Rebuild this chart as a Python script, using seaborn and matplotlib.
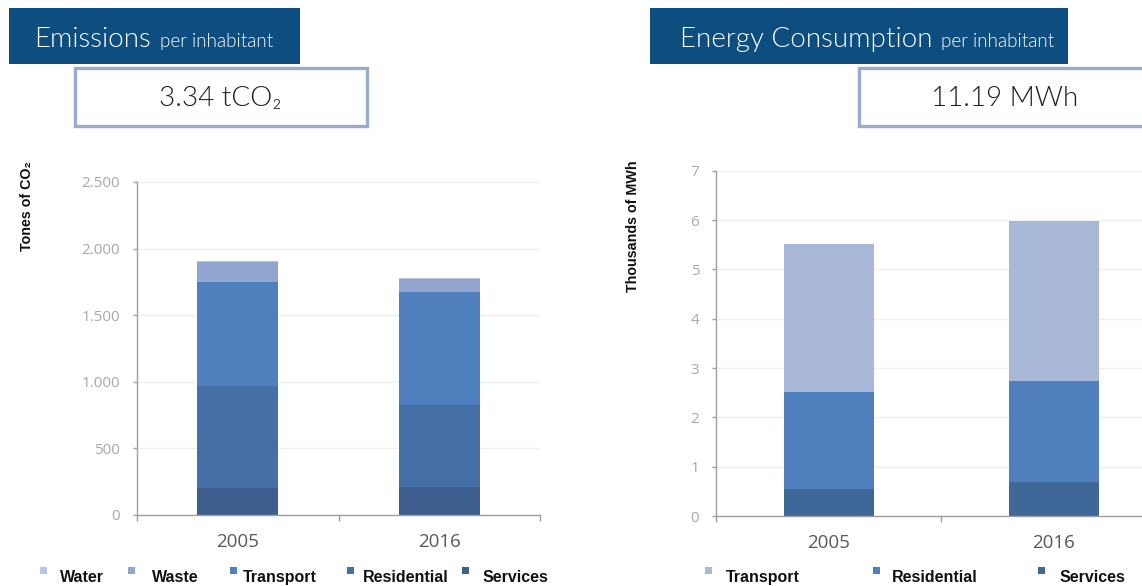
import matplotlib
matplotlib.use("Agg")
import matplotlib.pyplot as plt
from matplotlib.patches import Rectangle
from matplotlib.ticker import FuncFormatter, FixedLocator
import seaborn as sns
import pandas as pd
import numpy as np

# ---- data -------------------------------------------------------------
years = ["2005", "2016"]

# Emissions (tonnes of CO2), stacked top -> bottom
emission_sectors = ["Water", "Waste", "Transport", "Residential", "Services"]
em_water = [6, 5]
em_waste = [151, 100]
em_transport = [784, 846]
em_residential = [763, 618]
em_services = [205, 208]
emission_colors = ["#b8c5de", "#91a6cf", "#4f7fbc", "#4670a5", "#3d5e8e"]

# Energy consumption (thousands of MWh), stacked top -> bottom
energy_sectors = ["Transport", "Residential", "Services"]
en_transport = [2.99, 3.24]
en_residential = [1.97, 2.06]
en_services = [0.55, 0.68]
energy_colors = ["#a9b8d6", "#4f80bd", "#3f6899"]

emission_ticks = [0, 500, 1000, 1500, 2000, 2500]
energy_ticks = [0, 1, 2, 3, 4, 5, 6, 7]

# ---- figure -----------------------------------------------------------
W, H = 1142, 586
sns.set_theme(style="white")
plt.rcParams["font.family"] = ["Open Sans", "DejaVu Sans"]
fig = plt.figure(figsize=(W / 100, H / 100), dpi=100)
fig.patch.set_facecolor("white")
renderer = fig.canvas.get_renderer()


def fx(px):
    return px / W


def fy(py):
    return 1 - py / H


def stacked(ax, layers, names, colors, ticks, ymax):
    # cumulative heights, drawn from the tallest down so lower layers sit on top
    arr = np.array(layers, dtype=float)
    cum = np.cumsum(arr[::-1], axis=0)[::-1]
    for name, col, vals in zip(names, colors, cum):
        df = pd.DataFrame({"year": years, "value": vals})
        sns.barplot(data=df, x="year", y="value", color=col, width=0.4,
                    saturation=1, errorbar=None, linewidth=0, ax=ax)
    ax.set_xlim(-0.5, 1.5)
    ax.set_ylim(0, ymax)
    ax.set_xlabel("")
    ax.set_ylabel("")
    ax.yaxis.set_major_locator(FixedLocator(ticks))
    ax.grid(axis="y", color="#efefef", linewidth=1)
    ax.set_axisbelow(True)
    for s in ["top", "right"]:
        ax.spines[s].set_visible(False)
    for s in ["left", "bottom"]:
        ax.spines[s].set_color("#a0a0a0")
        ax.spines[s].set_linewidth(1.0)
    ax.tick_params(axis="y", which="major", length=3, width=1, color="#a0a0a0",
                   pad=9, labelsize=11, labelcolor="#a8a8a8", left=True)
    ax.tick_params(axis="x", which="major", length=0, pad=13,
                   labelsize=13.5, labelcolor="#595959")
    ax.xaxis.set_minor_locator(FixedLocator([-0.5, 0.5, 1.5]))
    ax.tick_params(axis="x", which="minor", length=4.5, width=1,
                   color="#a0a0a0", bottom=True)
    for lab in ax.get_yticklabels() + ax.get_xticklabels():
        lab.set_fontfamily(["Open Sans", "DejaVu Sans"])


# Left panel: emissions
ax1 = fig.add_axes([fx(137), fy(515), fx(540) - fx(137), (515 - 182) / H])
stacked(ax1, [em_water, em_waste, em_transport, em_residential, em_services],
        emission_sectors, emission_colors, emission_ticks, 2500)
ax1.yaxis.set_major_formatter(
    FuncFormatter(lambda v, p: f"{v:,.0f}".replace(",", ".")))

# Right panel: energy consumption (runs past the right edge)
ax2 = fig.add_axes([fx(716), fy(516), fx(1166) - fx(716), (516 - 170.7) / H])
stacked(ax2, [en_transport, en_residential, en_services],
        energy_sectors, energy_colors, energy_ticks, 7)
ax2.yaxis.set_major_formatter(FuncFormatter(lambda v, p: f"{v:.0f}"))

# ---- axis titles ------------------------------------------------------
lab_font = dict(family=["Liberation Sans", "DejaVu Sans"], weight="bold",
                size=10.3, color="#111111", rotation=90,
                ha="center", va="center")
fig.text(fx(27), fy(206), "Tones of CO₂", **lab_font)
fig.text(fx(633), fy(226), "Thousands of MWh", **lab_font)

# ---- headers ----------------------------------------------------------
header_blue = "#0d4d7f"
box_edge = "#9aabd0"
lato = ["Lato", "DejaVu Sans"]


def header(x0, x1, title, title_x):
    fig.add_artist(Rectangle((fx(x0), fy(64)), fx(x1) - fx(x0), (64 - 8) / H,
                             transform=fig.transFigure, facecolor=header_blue,
                             edgecolor="none", zorder=1))
    t = fig.text(fx(title_x), fy(47), title, color="white", size=20,
                 family=lato, weight=300, ha="left", va="baseline", zorder=5)
    right = t.get_window_extent(renderer).x1
    fig.text(fx(right + 9), fy(47), "per inhabitant", color="white",
             size=13.6, family=lato, weight=300,
             ha="left", va="baseline", zorder=5)


def value_box(x0, x1, text, cx):
    fig.add_artist(Rectangle((fx(x0), fy(126)), fx(x1) - fx(x0), (126 - 68) / H,
                             transform=fig.transFigure, facecolor="white",
                             edgecolor=box_edge, linewidth=2.4, zorder=1))
    fig.text(fx(cx), fy(106), text, color="#1e1e1e", size=20,
             family=lato, weight=300, ha="center", va="baseline", zorder=5)


header(9, 300, "Emissions", 34)
value_box(75, 367, "3.34 tCO₂", 220)
header(650, 1068, "Energy Consumption", 680)
value_box(859, 1160, "11.19 MWh", 1005)

# ---- legends (square swatch + label per series) -----------------------
leg_font = dict(family=["Liberation Sans", "DejaVu Sans"], weight="bold",
                size=11.5, color="#111111", ha="left", va="baseline")


def legend_row(names, colors, marker_x, text_x):
    for n, c, mx, tx in zip(names, colors, marker_x, text_x):
        fig.add_artist(Rectangle((fx(mx), fy(574)), 7 / W, 7 / H,
                                 transform=fig.transFigure, facecolor=c,
                                 edgecolor="none"))
        fig.text(fx(tx), fy(582), n, **leg_font)


legend_row(emission_sectors, emission_colors,
           [40, 128, 230, 347, 462], [60, 152, 243, 363, 483])
legend_row(energy_sectors, energy_colors,
           [705, 873, 1038], [726, 892, 1060])

fig.savefig("out.png", dpi=100, facecolor="white")
